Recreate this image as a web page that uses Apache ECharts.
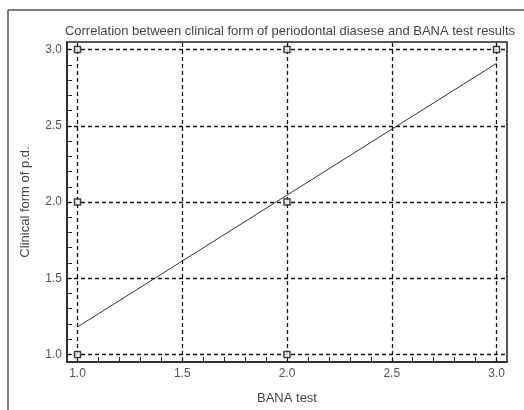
<!DOCTYPE html>
<html>
<head>
<meta charset="utf-8" />
<title>BANA</title>
<script src="https://cdn.jsdelivr.net/npm/echarts@6/dist/echarts.min.js"></script>
<style>
  html, body { margin: 0; padding: 0; background: #fff; }
</style>
</head>
<body>
<div id="main" style="width: 524px;height:410px;"></div>
<script>
    // observed points (BANA test, clinical form)
    var points = [
        [1, 3], [2, 3], [3, 3],
        [1, 2], [2, 2],
        [1, 1], [2, 1]
    ];
    // fitted line, end points
    var fitLine = [[1, 1.18], [3, 2.91]];

    var majorTicks = [1.0, 1.5, 2.0, 2.5, 3.0];
    var minorTicks = [1.0, 1.1, 1.2, 1.3, 1.4, 1.5, 1.6, 1.7, 1.8, 1.9, 2.0,
                      2.1, 2.2, 2.3, 2.4, 2.5, 2.6, 2.7, 2.8, 2.9, 3.0];

    var myChart = echarts.init(document.getElementById('main'));

    var gridLines = [];
    majorTicks.forEach(function (v) {
        gridLines.push({ xAxis: v });
        gridLines.push({ yAxis: v });
    });

    var labelStyle = {
        color: '#555',
        fontFamily: 'Liberation Sans',
        fontSize: 12
    };
    var nameStyle = {
        color: '#444',
        fontFamily: 'Liberation Sans',
        fontSize: 13
    };

    var option = {
        backgroundColor: '#fff',
        animation: false,
        title: {
            text: 'Correlation between clinical form of periodontal diasese and BANA test results',
            left: 285,
            textAlign: 'center',
            top: 20,
            textStyle: {
                color: '#444',
                fontFamily: 'Liberation Sans',
                fontSize: 13,
                fontWeight: 'normal'
            }
        },
        graphic: [
            { type: 'line', shape: { x1: 8, y1: 10, x2: 524, y2: 10 }, style: { stroke: '#555', lineWidth: 1.5 } },
            { type: 'line', shape: { x1: 8, y1: 10, x2: 8, y2: 410 }, style: { stroke: '#555', lineWidth: 1.5 } }
        ],
        grid: {
            left: 67,
            top: 42,
            width: 440,
            height: 320,
            show: true,
            borderColor: '#222',
            borderWidth: 1.5
        },
        xAxis: {
            type: 'value',
            min: 0.95,
            max: 3.05,
            name: 'BANA test',
            nameLocation: 'middle',
            nameGap: 30,
            nameTextStyle: nameStyle,
            axisLine: { lineStyle: { color: '#222', width: 1.5 } },
            axisTick: { inside: true, length: 5, customValues: minorTicks, lineStyle: { color: '#222' } },
            axisLabel: Object.assign({ customValues: majorTicks, margin: 6,
                formatter: function (v) { return v.toFixed(1); } }, labelStyle),
            splitLine: { show: false }
        },
        yAxis: {
            type: 'value',
            min: 0.95,
            max: 3.05,
            name: 'Clinical form of p.d.',
            nameLocation: 'middle',
            nameGap: 35,
            nameTextStyle: nameStyle,
            axisLine: { lineStyle: { color: '#222', width: 1.5 } },
            axisTick: { inside: true, length: 5, customValues: minorTicks, lineStyle: { color: '#222' } },
            axisLabel: Object.assign({ customValues: majorTicks, margin: 5,
                formatter: function (v) { return v.toFixed(1); } }, labelStyle),
            splitLine: { show: false }
        },
        series: [{
            name: 'fit',
            type: 'line',
            data: fitLine,
            showSymbol: false,
            symbol: 'none',
            z: 3,
            lineStyle: { color: '#333', width: 1 },
            markLine: {
                silent: true,
                symbol: 'none',
                label: { show: false },
                lineStyle: { color: '#111', width: 1.3, type: [4, 3] },
                data: gridLines
            }
        }, {
            name: 'points',
            type: 'scatter',
            data: points,
            symbol: 'rect',
            symbolSize: 6,
            z: 5,
            itemStyle: { color: '#fff', borderColor: '#111', borderWidth: 1.5 }
        }]
    };

    myChart.setOption(option);
</script>
</body>
</html>
